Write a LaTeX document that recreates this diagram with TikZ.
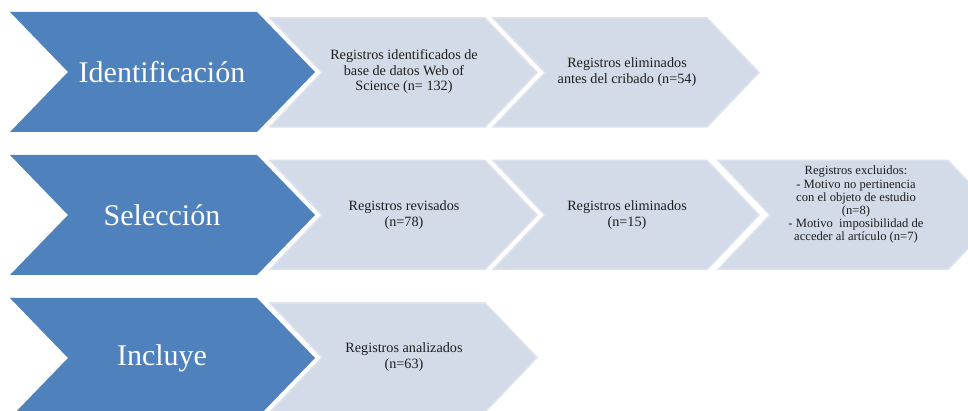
\documentclass[tikz,border=0pt]{standalone}
\usepackage{fontspec}
\setmainfont{Liberation Serif}
\definecolor{bigblue}{HTML}{4F81BD}
\definecolor{lightfill}{HTML}{D3DBE8}
\definecolor{lightedge}{HTML}{DDE3EE}
\definecolor{txt}{HTML}{1E1E1E}
\newcommand\mychev[6]{\path[#6] (#1,{#2-#4}) -- ({#1+#3-#5},{#2-#4}) -- ({#1+#3},#2) -- ({#1+#3-#5},{#2+#4}) -- (#1,{#2+#4}) -- ({#1+#5},#2) -- cycle;}
\begin{document}
\begin{tikzpicture}[x=1pt,y=-1pt,
  bigchev/.style={fill=bigblue,draw=none},
  lightchev/.style={fill=lightfill,draw=lightedge,line width=1.5pt,line join=miter},
  bigtext/.style={text=white,inner sep=0pt,font=\fontsize{30}{36}\selectfont},
  smalltext/.style={text=txt,align=center,inner sep=0pt,font=\fontsize{14.2}{15.5}\selectfont},
  tinytext/.style={text=txt,align=center,inner sep=0pt,font=\fontsize{12.6}{12.6}\selectfont}]
\useasboundingbox (0,0) rectangle (968,411);
\clip (0,0) rectangle (968,411);
\fill[white] (0,0) rectangle (968,411);
% row 1
\mychev{10}{72}{305}{60}{58}{bigchev}
\mychev{270}{72.5}{267}{54.5}{52}{lightchev}
\mychev{493}{72.5}{266}{54.5}{52}{lightchev}
\node[bigtext] (ident) at (162,72) {Identificación};
\node[smalltext] (reg1) at (404,72) {Registros identificados de\\base de datos Web of\\Science (n= 132)};
\node[smalltext] (elim1) at (627,72) {Registros eliminados\\antes del cribado (n=54)};
% row 2
\mychev{10}{215}{305}{60}{58}{bigchev}
\mychev{270}{215}{267}{54.5}{52}{lightchev}
\mychev{493}{215}{266}{54.5}{52}{lightchev}
\mychev{718}{215}{282}{54.5}{52}{lightchev}
\node[bigtext] (selec) at (162,215) {Selección};
\node[smalltext] (rev) at (404,215) {Registros revisados\\(n=78)};
\node[smalltext] (elim2) at (627,215) {Registros eliminados\\(n=15)};
\node[tinytext] (excl) at (856,204.5) {Registros excluidos:\\[1.5pt]- Motivo no pertinencia\\con el objeto de estudio\\(n=8)\\[1pt]- Motivo\ \ imposibilidad de\\acceder al artículo (n=7)};
% row 3
\mychev{10}{358}{305}{60}{58}{bigchev}
\mychev{270}{357.5}{267}{54.5}{52}{lightchev}
\node[bigtext] (incl) at (162,358) {Incluye};
\node[smalltext] (anal) at (404,357) {Registros analizados\\(n=63)};
\end{tikzpicture}
\end{document}
